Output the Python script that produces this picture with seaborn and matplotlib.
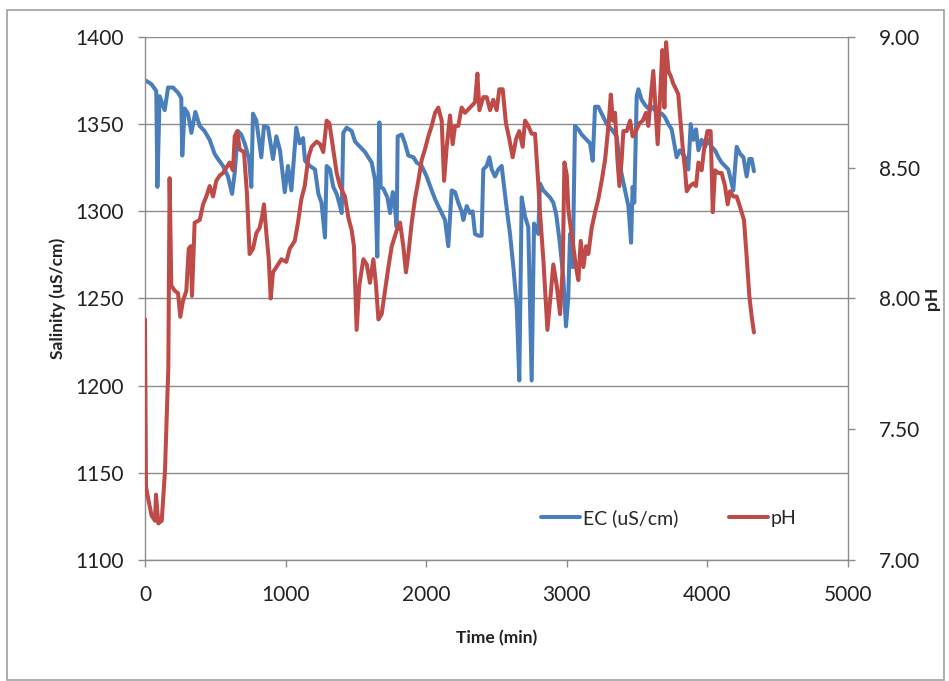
import matplotlib
matplotlib.use("Agg")
import matplotlib.pyplot as plt
from matplotlib.lines import Line2D
from matplotlib.patches import Rectangle
import seaborn as sns
import pandas as pd

# Electrical conductivity record: time (min) and EC (uS/cm)
ec_time = [5, 45, 80, 88, 104, 140, 164, 199, 235, 258, 265, 282, 306, 330, 358, 389, 424, 460,
           495, 519, 555, 590, 619, 638, 661, 685, 709, 740, 756, 768, 792, 827, 846, 875, 910,
           934, 960, 994, 1017, 1041, 1076, 1100, 1124, 1138, 1173, 1209, 1233, 1255, 1280, 1292,
           1316, 1339, 1363, 1387, 1399, 1410, 1434, 1470, 1494, 1529, 1565, 1588, 1612, 1636,
           1652, 1667, 1676, 1695, 1724, 1743, 1762, 1775, 1790, 1797, 1826, 1849, 1873, 1909,
           1932, 1968, 2003, 2039, 2063, 2086, 2110, 2134, 2157, 2181, 2205, 2228, 2252, 2264,
           2288, 2311, 2330, 2347, 2371, 2394, 2406, 2430, 2449, 2466, 2489, 2513, 2537, 2548,
           2575, 2596, 2620, 2644, 2662, 2679, 2703, 2726, 2750, 2767, 2797, 2809, 2833, 2857,
           2880, 2904, 2925, 2950, 2975, 2994, 3010, 3023, 3042, 3058, 3082, 3106, 3141, 3165,
           3184, 3201, 3224, 3248, 3284, 3319, 3355, 3378, 3414, 3438, 3457, 3468, 3480, 3497,
           3509, 3532, 3556, 3592, 3615, 3639, 3675, 3698, 3722, 3746, 3781, 3805, 3841, 3864,
           3881, 3900, 3919, 3936, 3959, 3983, 4006, 4030, 4054, 4078, 4101, 4125, 4149, 4184,
           4208, 4232, 4256, 4279, 4298, 4315, 4331]
ec_value = [1375, 1373, 1369, 1314, 1366, 1358, 1371, 1371, 1368, 1365, 1332, 1359, 1356, 1345,
            1357, 1349, 1346, 1341, 1333, 1330, 1326, 1320, 1310, 1322, 1346, 1344, 1339, 1330,
            1314, 1356, 1352, 1331, 1349, 1348, 1330, 1343, 1335, 1311, 1326, 1312, 1348, 1339,
            1342, 1329, 1326, 1324, 1310, 1305, 1285, 1326, 1324, 1314, 1310, 1303, 1299, 1345,
            1348, 1346, 1340, 1337, 1334, 1331, 1328, 1318, 1274, 1351, 1314, 1313, 1308, 1299,
            1311, 1305, 1291, 1343, 1344, 1339, 1332, 1331, 1328, 1326, 1320, 1312, 1307, 1303,
            1299, 1295, 1280, 1312, 1311, 1305, 1300, 1295, 1303, 1299, 1300, 1287, 1286, 1286,
            1324, 1326, 1331, 1324, 1320, 1324, 1326, 1318, 1300, 1287, 1268, 1245, 1203, 1308,
            1297, 1291, 1203, 1293, 1287, 1316, 1312, 1310, 1308, 1305, 1298, 1282, 1262, 1234,
            1250, 1287, 1268, 1349, 1347, 1344, 1341, 1339, 1329, 1360, 1360, 1356, 1350, 1347,
            1343, 1326, 1312, 1303, 1282, 1314, 1305, 1366, 1370, 1364, 1361, 1358, 1360, 1356,
            1356, 1354, 1350, 1347, 1331, 1335, 1331, 1324, 1350, 1341, 1347, 1335, 1341, 1337,
            1341, 1337, 1335, 1331, 1328, 1326, 1324, 1312, 1337, 1333, 1331, 1320, 1330, 1330,
            1323]

# pH record: time (min) and pH
ph_time = [0, 7, 24, 47, 71, 78, 95, 119, 142, 166, 175, 187, 211, 235, 251, 270, 294, 311, 325,
           334, 353, 389, 413, 436, 460, 484, 507, 531, 555, 578, 602, 626, 638, 656, 673, 704,
           725, 744, 768, 792, 815, 832, 846, 863, 880, 894, 910, 934, 970, 1005, 1029, 1065,
           1088, 1112, 1136, 1162, 1185, 1221, 1245, 1268, 1292, 1311, 1328, 1363, 1387, 1422,
           1446, 1470, 1486, 1505, 1524, 1553, 1577, 1600, 1624, 1643, 1660, 1683, 1707, 1731,
           1755, 1790, 1814, 1837, 1856, 1873, 1897, 1920, 1944, 1968, 1991, 2015, 2039, 2063,
           2086, 2110, 2127, 2146, 2169, 2188, 2205, 2228, 2252, 2276, 2311, 2347, 2364, 2378,
           2406, 2430, 2454, 2477, 2501, 2520, 2544, 2567, 2591, 2615, 2639, 2662, 2686, 2703,
           2726, 2750, 2774, 2797, 2809, 2833, 2862, 2886, 2904, 2928, 2952, 2971, 2983, 3000,
           3011, 3028, 3046, 3065, 3082, 3099, 3118, 3137, 3153, 3177, 3201, 3224, 3248, 3272,
           3296, 3313, 3327, 3343, 3360, 3374, 3390, 3402, 3426, 3450, 3468, 3492, 3516, 3540,
           3563, 3580, 3597, 3615, 3634, 3646, 3663, 3679, 3694, 3706, 3722, 3739, 3758, 3777,
           3793, 3805, 3824, 3841, 3853, 3876, 3900, 3919, 3936, 3959, 3976, 4000, 4023, 4038,
           4054, 4078, 4101, 4125, 4144, 4161, 4184, 4208, 4232, 4260, 4279, 4298, 4315, 4331]
ph_value = [7.92, 7.28, 7.23, 7.17, 7.15, 7.25, 7.14, 7.15, 7.34, 7.74, 8.46, 8.05, 8.03, 8.02,
            7.93, 7.99, 8.03, 8.19, 8.20, 8.01, 8.29, 8.30, 8.36, 8.39, 8.43, 8.39, 8.45, 8.47,
            8.48, 8.50, 8.52, 8.49, 8.62, 8.64, 8.57, 8.56, 8.40, 8.17, 8.19, 8.25, 8.27, 8.31,
            8.36, 8.25, 8.15, 8.00, 8.10, 8.12, 8.15, 8.14, 8.19, 8.22, 8.29, 8.38, 8.43, 8.54,
            8.58, 8.60, 8.59, 8.56, 8.68, 8.67, 8.61, 8.48, 8.43, 8.39, 8.31, 8.26, 8.20, 7.88,
            8.05, 8.15, 8.13, 8.06, 8.15, 8.05, 7.92, 7.94, 8.03, 8.12, 8.20, 8.26, 8.29, 8.20,
            8.10, 8.17, 8.29, 8.38, 8.45, 8.53, 8.57, 8.62, 8.66, 8.71, 8.73, 8.68, 8.45, 8.58,
            8.70, 8.59, 8.66, 8.66, 8.73, 8.71, 8.73, 8.75, 8.86, 8.72, 8.77, 8.77, 8.72, 8.76,
            8.72, 8.80, 8.80, 8.67, 8.61, 8.54, 8.61, 8.64, 8.58, 8.68, 8.66, 8.63, 8.63, 8.44,
            8.33, 8.15, 7.88, 8.02, 8.13, 8.05, 7.94, 8.12, 8.52, 8.47, 8.34, 8.27, 8.20, 8.12,
            8.07, 8.22, 8.12, 8.20, 8.17, 8.27, 8.33, 8.38, 8.45, 8.53, 8.66, 8.78, 8.68, 8.71,
            8.53, 8.43, 8.53, 8.64, 8.64, 8.68, 8.62, 8.64, 8.67, 8.68, 8.71, 8.66, 8.77, 8.87,
            8.70, 8.59, 8.77, 8.95, 8.73, 8.98, 8.87, 8.85, 8.82, 8.80, 8.78, 8.70, 8.58, 8.49,
            8.41, 8.43, 8.44, 8.43, 8.52, 8.49, 8.57, 8.64, 8.64, 8.33, 8.49, 8.48, 8.48, 8.43,
            8.36, 8.41, 8.39, 8.39, 8.35, 8.30, 8.16, 8.01, 7.93, 7.87]

x_ticks = [0, 1000, 2000, 3000, 4000, 5000]
sal_ticks = [1100, 1150, 1200, 1250, 1300, 1350, 1400]
ph_ticks = [7.00, 7.50, 8.00, 8.50, 9.00]

ec_color = "#4a7ebb"
ph_color = "#be4b48"
grid_color = "#8c8c8c"

sns.set_theme(style="white")
plt.rcParams["font.family"] = ["Lato", "DejaVu Sans"]

ec_df = pd.DataFrame({"time": ec_time, "ec": ec_value})
ph_df = pd.DataFrame({"time": ph_time, "ph": ph_value})

fig = plt.figure(figsize=(9.49, 6.81), dpi=100)
ax = fig.add_axes([0.1528, 0.1777, 0.7408, 0.768])
ax2 = ax.twinx()

sns.lineplot(data=ec_df, x="time", y="ec", ax=ax, color=ec_color, linewidth=2.9,
             estimator=None, sort=False)
sns.lineplot(data=ph_df, x="time", y="ph", ax=ax2, color=ph_color, linewidth=2.9,
             estimator=None, sort=False)

ax.set_xlim(0, 5000)
ax.set_ylim(1100, 1400)
ax2.set_ylim(7.0, 9.0)
ax.set_xticks(x_ticks)
ax.set_yticks(sal_ticks)
ax2.set_yticks(ph_ticks)
ax2.set_yticklabels([f"{v:.2f}" for v in ph_ticks])

ax.grid(axis="y", color=grid_color, linewidth=1.0)
ax.grid(axis="x", visible=False)
ax2.grid(False)
ax.set_axisbelow(True)

for a in (ax, ax2):
    a.spines["top"].set_visible(False)
    for side in ("left", "right", "bottom"):
        a.spines[side].set_color(grid_color)
        a.spines[side].set_linewidth(1.0)
ax.spines["right"].set_visible(False)
ax2.spines["left"].set_visible(False)
ax2.spines["bottom"].set_visible(False)

tick_kw = dict(length=5, width=1.0, color=grid_color, labelsize=15, labelcolor="#222222",
               direction="out")
ax.tick_params(axis="y", pad=10, left=True, **tick_kw)
ax.tick_params(axis="x", pad=13, bottom=True, **tick_kw)
ax2.tick_params(axis="y", pad=17, right=True, **tick_kw)

label_kw = dict(fontsize=12.5, fontweight="bold", color="#222222")
ax.set_xlabel("Time (min)", labelpad=18, **label_kw)
ax.set_ylabel("Salinity (uS/cm)", labelpad=7, **label_kw)
ax2.set_ylabel("pH", labelpad=3, rotation=90, **label_kw)

handles = [Line2D([], [], color=ec_color, linewidth=2.9),
           Line2D([], [], color=ph_color, linewidth=2.9)]
ax.legend(handles, ["EC (uS/cm)", "pH"], loc="center", bbox_to_anchor=(0.745, 0.08),
          ncol=2, frameon=False, fontsize=14, handlelength=2.0, handletextpad=0.15,
          columnspacing=2.6)

fig.patches.append(Rectangle((0.007, 0.002), 0.988, 0.984, transform=fig.transFigure,
                             fill=False, edgecolor="#a0a0a0", linewidth=1.2))

fig.savefig("out.png", dpi=100, facecolor="white")
